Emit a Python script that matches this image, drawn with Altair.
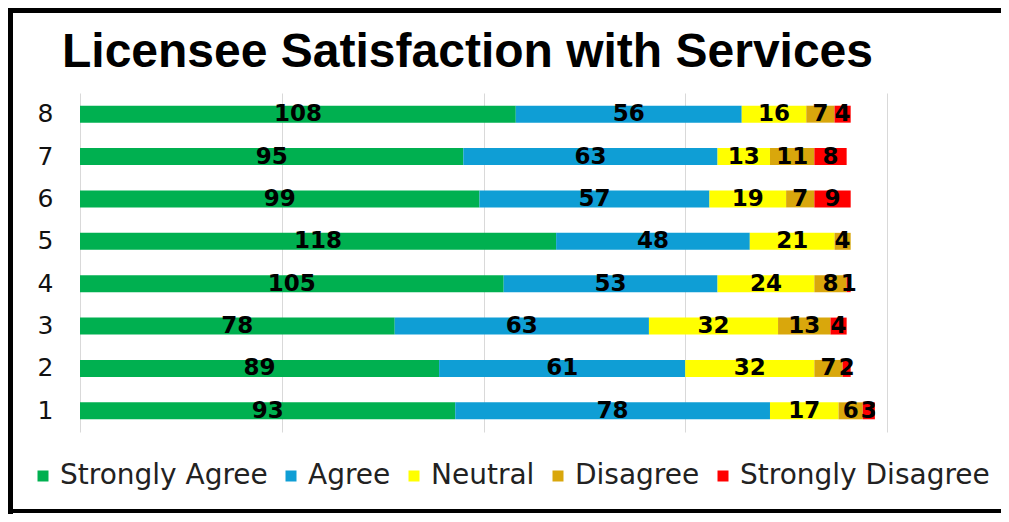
import altair as alt
import pandas as pd

categories = ["1", "2", "3", "4", "5", "6", "7", "8"]
strongly_agree = [93, 89, 78, 105, 118, 99, 95, 108]
agree = [78, 61, 63, 53, 48, 57, 63, 56]
neutral = [17, 32, 32, 24, 21, 19, 13, 16]
disagree = [6, 7, 13, 8, 4, 7, 11, 7]
strongly_disagree = [3, 2, 4, 1, 0, 9, 8, 4]
series_names = ["Strongly Agree", "Agree", "Neutral", "Disagree", "Strongly Disagree"]
series_colors = ["#00B050", "#0F9ED5", "#FFFF00", "#D9A70C", "#FF0000"]
x_ticks = [0, 50, 100, 150, 200]
title_text = "Licensee Satisfaction with Services"

rows = []
for si, (name, vals) in enumerate(zip(series_names, [strongly_agree, agree, neutral, disagree, strongly_disagree])):
    for c, v in zip(categories, vals):
        rows.append({"cat": c, "series": name, "order": si, "value": v})
df = pd.DataFrame(rows)

base = alt.Chart(df).transform_stack(
    stack="value", groupby=["cat"], as_=["x0", "x1"],
    sort=[alt.SortField("order", order="ascending")]
).transform_calculate(mid="(datum.x0 + datum.x1) / 2")

y_enc = alt.Y(
    "cat:O", sort="descending",
    scale=alt.Scale(paddingInner=0.6, paddingOuter=0.3),
    axis=alt.Axis(title=None, ticks=False, domain=False, labelFont="DejaVu Sans",
                  labelFontSize=25, labelColor="#111", labelPadding=27, grid=False),
)

bars = base.mark_bar().encode(
    y=y_enc,
    x=alt.X("x0:Q", scale=alt.Scale(domain=[0, 200], nice=False),
            axis=alt.Axis(values=x_ticks, labels=False, ticks=False, domain=False,
                          grid=True, gridColor="#D9D9D9", gridWidth=1, title=None)),
    x2="x1:Q",
    color=alt.Color(
        "series:N", sort=series_names,
        scale=alt.Scale(domain=series_names, range=series_colors),
        legend=alt.Legend(
            orient="none", legendX=-51, legendY=369, direction="horizontal",
            title=None, symbolType="square", symbolSize=121, symbolStrokeWidth=0,
            labelFont="DejaVu Sans", labelFontSize=28, labelColor="#222",
            labelOffset=3, columnPadding=9, labelLimit=600, padding=0, columns=5,
        ),
    ),
)

labels = base.transform_filter("datum.value > 0").mark_text(
    font="DejaVu Sans", fontWeight="bold", fontSize=23, color="black"
).encode(
    y=alt.Y("cat:O", sort="descending"),
    x=alt.X("mid:Q"),
    text="value:Q",
)

one = pd.DataFrame({"k": [0]})
title = alt.Chart(one).mark_text(
    text=title_text, font="Liberation Sans", fontSize=48, fontWeight="bold",
    color="black", align="left", baseline="alphabetic"
).encode(x=alt.value(-18), y=alt.value(-26))

frame_top = alt.Chart(one).mark_rule(color="black", strokeWidth=5).encode(
    x=alt.value(-72), x2=alt.value(921), y=alt.value(-82.5))
frame_left = alt.Chart(one).mark_rule(color="black", strokeWidth=5).encode(
    x=alt.value(-69.5), y=alt.value(-85), y2=alt.value(421))
frame_bottom = alt.Chart(one).mark_rule(color="black", strokeWidth=4).encode(
    x=alt.value(-72), x2=alt.value(921), y=alt.value(418))

chart = alt.layer(bars, labels, title, frame_top, frame_left, frame_bottom).properties(
    width=807, height=339,
    padding={"left": 72, "top": 85, "right": 114, "bottom": 82},
    autosize=alt.AutoSizeParams(type="none"),
).configure_view(stroke=None)

chart.save("out.html", embed_options={"renderer": "svg", "actions": False})
